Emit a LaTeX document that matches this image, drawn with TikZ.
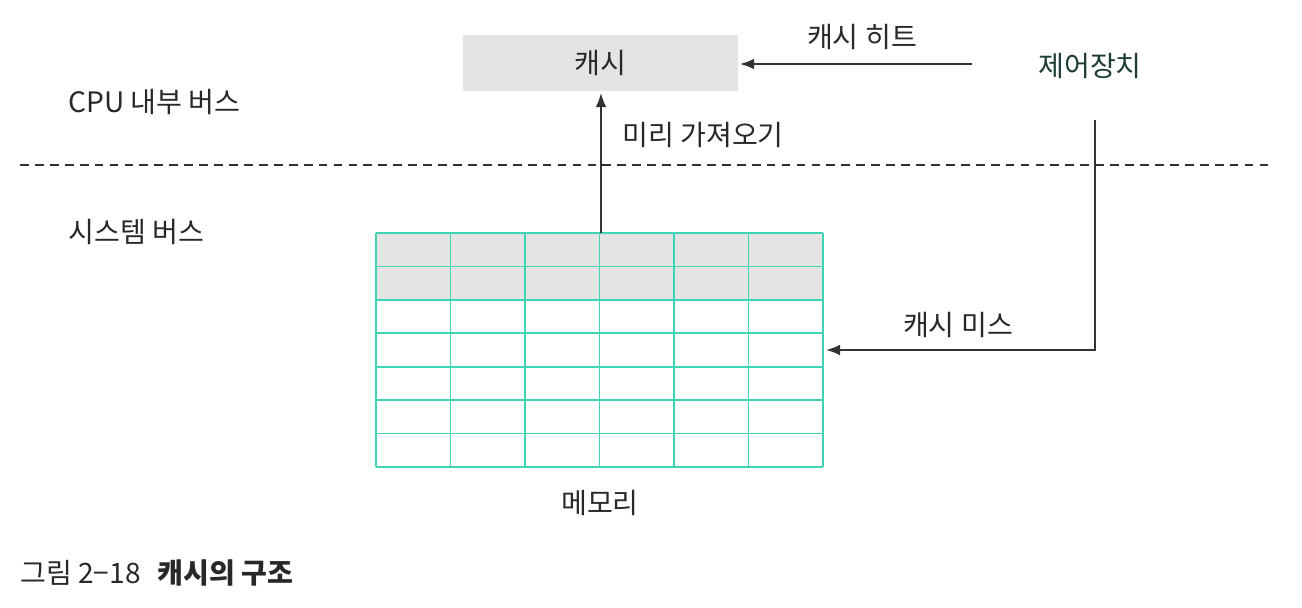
\documentclass[tikz,border=0pt]{standalone}
\usepackage{fontspec}
\setmainfont{Noto Sans CJK KR}
\usetikzlibrary{arrows.meta}
\definecolor{gridc}{RGB}{64,212,182}
\definecolor{cellg}{RGB}{228,228,228}
\definecolor{linec}{RGB}{50,50,50}
\definecolor{textc}{RGB}{40,40,40}
\definecolor{ctrlc}{RGB}{30,60,55}
\tikzset{
  lbl/.style={font=\fontsize{16pt}{19pt}\selectfont, text=textc, inner sep=0pt},
  conn/.style={draw=linec, line width=0.9pt, -{Latex[length=8pt,width=6pt]}},
  plain/.style={draw=linec, line width=0.9pt},
}
\begin{document}
\begin{tikzpicture}[x=0.02cm,y=-0.02cm]
\useasboundingbox (0,0) rectangle (1302,608);
% cache box
\node[fill=cellg, minimum width=275*0.02cm, minimum height=56*0.02cm, inner sep=0pt, anchor=north west] (cache) at (463,35) {};
\node[lbl] (cachet) at (cache.center) {캐시};
% control unit
\node[lbl, text=ctrlc] (ctrl) at (1090,66) {제어장치};
\coordinate (hitstart) at (972,64);
\coordinate (hitend) at (740,64);
\draw[conn] (hitstart) -- (hitend);
\node[lbl] (hit) at (862,37) {캐시 히트};
% bus labels
\node[lbl, anchor=west] (cpubus) at (68,102) {CPU 내부 버스};
\node[lbl, anchor=west] (sysbus) at (68,232) {시스템 버스};
\coordinate (dl) at (20,165);
\coordinate (dr) at (1268,165);
\draw[draw=linec, line width=0.8pt, dash pattern=on 5pt off 3.5pt] (dl) -- (dr);
% memory grid
\fill[cellg] (376,233) rectangle (823,300);
\foreach \yy in {233,266.4,299.9,333.3,366.7,400.1,433.6,467} {
  \draw[gridc, line width=1pt] (376,\yy) -- (823,\yy);
}
\foreach \xx in {376,450.5,525,599.5,674,748.5,823} {
  \draw[gridc, line width=1pt] (\xx,233) -- (\xx,467);
}
\node[inner sep=0pt, minimum width=447*0.02cm, minimum height=234*0.02cm, anchor=north west] (mem) at (376,233) {};
\node[lbl] (memt) at (600,503) {메모리};
% prefetch
\coordinate (pfs) at (601,233);
\draw[conn] (pfs) -- (601,93);
\node[lbl] (pf) at (703,135) {미리 가져오기};
% cache miss
\coordinate (ms) at (1095,120);
\coordinate (mc) at (1095,350);
\coordinate (me) at (826,350);
\draw[conn] (ms) -- (mc) -- (me);
\node[lbl] (miss) at (958,325) {캐시 미스};
% caption
\node[lbl, anchor=west] (cap) at (20,573) {그림 2−18\hspace{0.6em}\textbf{캐시의 구조}};
\end{tikzpicture}
\end{document}
